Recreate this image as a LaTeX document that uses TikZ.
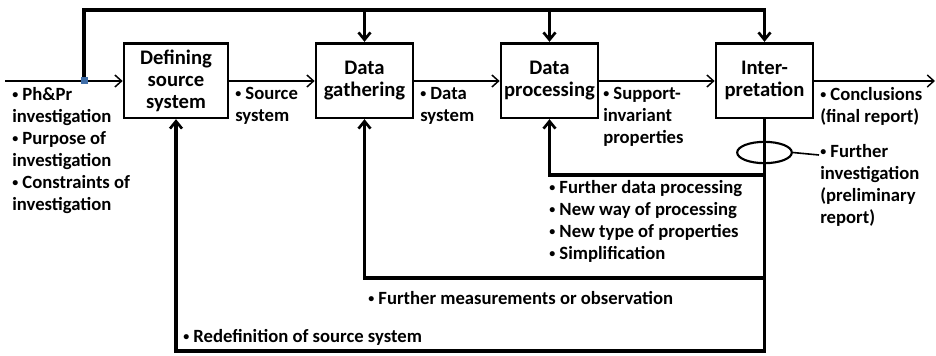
\documentclass[tikz,border=0pt]{standalone}
\usepackage{fontspec}
\setmainfont{Carlito}
\usetikzlibrary{arrows.meta,shapes.geometric}
\definecolor{junctBlue}{rgb}{0.25, 0.43, 0.66}
\newcommand{\itembul}{\raisebox{0.12em}{\fontsize{9}{9}\selectfont•}}

\begin{document}
\begin{tikzpicture}[x=0.75pt, y=-0.75pt,
    font=\fontsize{14}{16.5}\selectfont\bfseries,
    stepbox/.style={draw, line width=2pt, align=center, font=\fontsize{15.5}{16.5}\selectfont\bfseries, minimum width=72.75pt, minimum height=56pt, inner sep=1pt},
    txt/.style={anchor=north west, align=left, inner sep=0pt},
    flow/.style={line width=1.1pt, -{Straight Barb[length=5pt, width=9pt, line width=1.1pt]}},
    fb/.style={line width=2.3pt, line join=miter},
    fbarrow/.style={fb, -{Straight Barb[length=5.5pt, width=9pt, line width=2pt]}}]

            \useasboundingbox (0,0) rectangle (936,355);

            % boxes
            \node[stepbox, minimum width=78pt] (sys) at (176,80.5) {Defining\\source\\system};
            \node[stepbox] (gath) at (364.5,80.5) {Data\\gathering};
            \node[stepbox] (proc) at (549.5,80.5) {Data\\processing};
            \node[stepbox] (interp) at (764.5,80.5) {Inter-\\pretation};

            % main line
            \coordinate (in) at (5,81);
            \coordinate (out) at (935,81);
            \draw[flow] (in) -- (sys.west |- in);
            \draw[flow] (sys.east |- in) -- (gath.west |- in);
            \draw[flow] (gath.east |- in) -- (proc.west |- in);
            \draw[flow] (proc.east |- in) -- (interp.west |- in);
            \draw[flow] (interp.east |- in) -- (out);

            % top feedback
            \coordinate (jn) at (84,80);
            \coordinate (tl) at (84,10);
            \draw[fbarrow] (jn) -- (tl) -| (interp.north);
            \draw[fbarrow] (gath.north |- tl) -- (gath.north);
            \draw[fbarrow] (proc.north |- tl) -- (proc.north);
            \fill[junctBlue] (80.5,76.5) rectangle (87.5,83.5);

            % bottom feedback
            \coordinate (b1) at (764.5,175);
            \coordinate (b2) at (764.5,278);
            \coordinate (b3) at (764.5,351);
            \draw[fbarrow] (interp.south) -- (b3) -| (sys.south);
            \draw[fbarrow] (b1) -| (proc.south);
            \draw[fbarrow] (b2) -| (gath.south);
            \node[draw, ellipse, line width=1.6pt, minimum width=41pt, minimum height=16pt, inner sep=0pt] (loop) at (764.5,152.5) {};

            % labels
            \node[txt] (inputs) at (12,87.5) {\itembul{} Ph\&Pr\\investigation\\\itembul{} Purpose of\\investigation\\\itembul{} Constraints of\\investigation};
            \node[txt] (srcsys) at (235,87) {\itembul{} Source\\system};
            \node[txt] (datsys) at (420,87) {\itembul{} Data\\system};
            \node[txt] (suppinv) at (603,87) {\itembul{} Support-\\invariant\\properties};
            \node[txt] (concl) at (820,87) {\itembul{} Conclusions\\(final report)};
            \node[txt] (finv) at (820,144.5) {\itembul{} Further\\investigation\\(preliminary\\report)};
            \node[txt] (fproc) at (549,180.5) {\itembul{} Further data processing\\\itembul{} New way of processing\\\itembul{} New type of properties\\\itembul{} Simplification};
            \node[txt] (fmeas) at (368,291.5) {\itembul{} Further measurements or observation};
            \node[txt] (redef) at (183,329.5) {\itembul{} Redefinition of source system};
            \draw[line width=1.2pt] (loop.east) -- ([shift={(-1,10.5)}]finv.north west);

        \end{tikzpicture}
\end{document}
